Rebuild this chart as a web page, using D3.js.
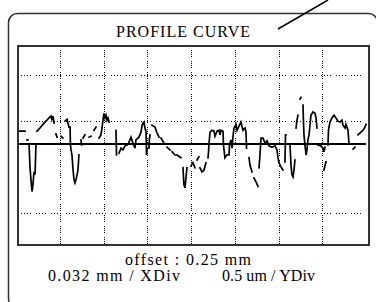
<!DOCTYPE html>
<html>
<head>
<meta charset="utf-8">
<script src="https://cdn.jsdelivr.net/npm/d3@7"></script>
<style>
  body { margin: 0; background: #fff; }
  svg { display: block; }
  text { font-family: "Liberation Serif", "DejaVu Serif", serif; fill: #000; }
</style>
</head>
<body>
<div class="canvas"></div>
<script>
// profile samples: x in um along the trace, height in Y divisions (0.5 um each)
// null marks a gap in the trace
const xUm = [
  1.5, 5.9, null, 7.3, 8.0, null,
  8.8, 9.5, 10.2, 11.0, 11.7, 12.4, 13.2, 13.9, null,
  14.6, 16.8, 19.0, 21.2, 23.4, 24.9, 25.6, 26.3, 27.1, null,
  28.5, 29.3, null, 32.2, 33.6, null,
  35.1, 36.6, 38.0, 38.8, 39.1, 39.5, 40.2, 41.0, 41.7, 42.4, 43.2, 44.6, 45.3, null,
  46.8, 47.2, null, 48.3, 49.7, null, 52.7, 54.1, null, 56.3, 57.8, null,
  60.0, 61.4, 62.2, 62.9, 63.6, 64.4, 65.1, 65.8, 66.6, 67.3, null,
  72.4, 72.8, null,
  74.6, 76.1, 77.5, 79.0, 80.5, null,
  81.9, 83.4, 84.8, 86.3, 87.0, 89.2, 90.7, 91.4, 92.2, 92.9, 93.6, 94.4, 94.7, 95.1, null,
  96.5, 96.9, 97.3, null,
  98.7, 100.9, 102.4, 103.9, null,
  105.3, 107.5, null, 109.7, 111.9, null, 113.4, 115.6, null, 117.0, 119.9, null,
  121.4, 122.1, 122.9, 123.6, 124.3, null,
  127.3, 128.7, 130.2, null, 131.7, 133.1, null,
  133.8, 135.3, 136.8, 138.2, null,
  139.7, 140.1, 140.4, 141.2, 142.6, 144.1, 144.8, 146.3, 147.7, 148.5, 149.2, 150.7, 151.0,
  152.1, 153.6, 155.1, 155.4, 156.5, 157.3, 158.0, 158.7, 160.2, 160.9, 162.4, 163.8, 165.3,
  166.8, 167.5, 167.9, null,
  169.7, 170.4, 171.9, null, 173.3, 174.8, 176.3, null,
  177.0, 177.7, 178.5, 179.9, 181.4, 182.9, 184.3, 186.5, 188.7, 190.2, 190.9, 191.6, 193.1, 194.5, null,
  196.0, 196.4, 196.7, null,
  199.7, 200.4, 201.1, 201.9, 202.6, 203.3, null,
  204.1, 204.8, 205.5, null, 207.0, 207.7, null,
  209.2, 209.5, 209.9, 210.6, 211.4, 212.1, 212.8, 213.6, 214.3, 215.0, 216.5, 218.0, 218.7, 219.4, null,
  220.2, 222.3, 223.8, 224.5, 225.3, null,
  224.5, 226.0, null,
  227.5, 227.8, 228.9, 230.4, 231.9, 233.3, 234.8, 236.2, 237.7, 238.4, 239.9, 240.6, 242.1, 242.8, null,
  245.8, 247.2, null,
  249.4, 251.6, 253.1, 254.5, 255.3
];
const yDiv = [
  0.28, 0.28, null, 0.09, 0.09, null,
  0, -0.50, -0.78, -1.04, -0.89, -0.61, -0.67, 0, null,
  0.28, 0.35, 0.43, 0.50, 0.57, 0.61, 0.52, 0.61, 0.46, null,
  0.22, 0.15, null, 0.17, 0.13, null,
  0.50, 0.54, 0.37, 0.37, -0.02, -0.13, -0.24, -0.57, -0.78, -0.85, -0.78, -0.57, -0.24, null,
  0.09, -0.02, null, 0.13, 0.20, null, 0.15, 0.17, null, 0.30, 0.37, null,
  0.13, 0.20, 0.35, 0.52, 0.67, 0.57, 0.63, 0.52, 0.57, 0.48, null,
  0.30, -0.24, null,
  -0.20, -0.09, -0.13, -0.04, -0.02, null,
  0.04, 0.15, 0.02, -0.09, 0.09, 0.15, 0.26, 0.39, 0.46, 0.48, 0.35, 0.26, -0.24, -0.09, null,
  -0.09, 0.13, 0.20, null,
  0.41, 0.37, 0.24, 0.15, null,
  0.13, 0.02, null, -0.07, -0.13, null, -0.17, -0.24, null, -0.24, -0.30, null,
  -0.52, -0.89, -0.96, -0.74, -0.52, null,
  -0.48, -0.41, -0.52, null, -0.35, -0.28, null,
  -0.52, -0.61, -0.57, -0.41, null,
  -0.30, -0.17, 0, 0.26, 0.30, 0.28, 0.17, 0.28, 0.30, 0.20, 0.30, 0.28, -0.02,
  -0.30, -0.24, -0.24, -0.02, 0.09, -0.09, 0.17, 0.35, 0.43, 0.30, 0.39, 0.48, 0.30,
  0.35, 0.26, -0.09, null,
  -0.30, -0.46, -0.61, null, -0.74, -0.83, -0.93, null,
  -0.52, -0.24, 0.13, 0.13, 0.02, 0.07, -0.04, -0.07, -0.04, -0.13, -0.30, -0.41, -0.50, -0.57, null,
  -0.39, 0.20, 0.20, null,
  -0.02, -0.46, -0.67, -0.72, -0.57, -0.35, null,
  0.35, 0.52, 0.63, null, 0.98, 1.02, null,
  0.85, 0.52, 0.20, -0.02, -0.24, -0.13, 0.09, 0.20, 0.41, 0.63, 0.70, 0.67, 0.57, 0.35, null,
  -0.02, -0.04, -0.09, -0.17, -0.07, null,
  -0.57, -0.39, null,
  -0.02, 0.30, 0.48, 0.57, 0.63, 0.57, 0.50, 0.48, 0.52, 0.41, 0.35, 0.43, 0.30, 0.02, null,
  -0.11, -0.07, null,
  0.20, 0.26, 0.30, 0.37, 0.43
];

// grid
const xGridUm = [32, 64, 96, 128, 160, 192, 224];
const yGridDiv = [1.5, 0.5, -1.5];

const titleText = "PROFILE CURVE";
const offsetText = "offset :  0.25 mm";
const xDivText = "0.032 mm / XDiv";
const yDivText = "0.5 um / YDiv";

const width = 376;
const height = 302;
const plot = { left: 17.5, right: 368.5, top: 45.5, bottom: 245 };

const svg = d3
  .select(".canvas")
  .append("svg")
  .attr("width", width)
  .attr("height", height);

// outer rounded frame (runs off the right and bottom edges)
svg
  .append("rect")
  .attr("x", 8.5)
  .attr("y", 13.5)
  .attr("width", 369)
  .attr("height", 294)
  .attr("rx", 9)
  .attr("fill", "none")
  .attr("stroke", "#333")
  .attr("stroke-width", 1.5);

// pointer line
svg
  .append("line")
  .attr("x1", 278)
  .attr("y1", 29)
  .attr("x2", 328)
  .attr("y2", 0)
  .attr("stroke", "#000")
  .attr("stroke-width", 1.5);

svg
  .append("text")
  .attr("x", 183)
  .attr("y", 37)
  .attr("text-anchor", "middle")
  .attr("font-size", 16)
  .attr("textLength", 134)
  .attr("lengthAdjust", "spacing")
  .text(titleText);

// scales
const x = d3.scaleLinear().domain([0, 256]).range([17, 367]);
const y = d3.scaleLinear().domain([0, 1]).range([144, 144 - 45.7]);

const graph = svg.append("g");

// vertical dotted grid
graph
  .selectAll(".vgrid")
  .data(xGridUm)
  .enter()
  .append("line")
  .attr("class", "vgrid")
  .attr("x1", (d) => Math.round(x(d)) - 0.5)
  .attr("x2", (d) => Math.round(x(d)) - 0.5)
  .attr("y1", plot.top + 4)
  .attr("y2", plot.bottom - 1)
  .attr("stroke", "#000")
  .attr("stroke-width", 1)
  .attr("shape-rendering", "crispEdges")
  .attr("stroke-dasharray", "1,1,1,1,1,1,1,4");

// horizontal dotted grid
graph
  .selectAll(".hgrid")
  .data(yGridDiv)
  .enter()
  .append("line")
  .attr("class", "hgrid")
  .attr("x1", plot.left + 3)
  .attr("x2", plot.right - 4)
  .attr("y1", (d) => Math.round(y(d)) + 0.5)
  .attr("y2", (d) => Math.round(y(d)) + 0.5)
  .attr("stroke", "#000")
  .attr("stroke-width", 1)
  .attr("shape-rendering", "crispEdges")
  .attr("stroke-dasharray", "1,2,1,2,1,2,1,5");

// zero line
graph
  .append("line")
  .attr("x1", plot.left)
  .attr("x2", plot.right - 3)
  .attr("y1", y(0))
  .attr("y2", y(0))
  .attr("stroke", "#000")
  .attr("stroke-width", 2)
  .attr("shape-rendering", "crispEdges");

// plot border
svg
  .append("rect")
  .attr("x", plot.left)
  .attr("y", plot.top)
  .attr("width", plot.right - plot.left)
  .attr("height", plot.bottom - plot.top)
  .attr("fill", "none")
  .attr("stroke", "#333")
  .attr("stroke-width", 2)
  .attr("shape-rendering", "crispEdges");

// profile trace
const points = xUm.map((d, i) => ({ x: d, y: yDiv[i] }));

const line = d3
  .line()
  .defined((d) => d.x != null && d.y != null)
  .x((d) => x(d.x))
  .y((d) => y(d.y));

graph
  .append("path")
  .datum(points)
  .attr("fill", "none")
  .attr("stroke", "#000")
  .attr("stroke-width", 1.7)
  .attr("stroke-linecap", "square")
  .attr("d", line);

// footer texts
svg
  .append("text")
  .attr("x", 188)
  .attr("y", 265)
  .attr("text-anchor", "middle")
  .attr("font-size", 16)
  .attr("textLength", 126)
  .attr("lengthAdjust", "spacing")
  .text(offsetText);

svg
  .append("text")
  .attr("x", 48)
  .attr("y", 281)
  .attr("font-size", 16)
  .attr("textLength", 132)
  .attr("lengthAdjust", "spacing")
  .text(xDivText);

svg
  .append("text")
  .attr("x", 222)
  .attr("y", 281)
  .attr("font-size", 16)
  .attr("textLength", 93)
  .attr("lengthAdjust", "spacing")
  .text(yDivText);
</script>
</body>
</html>
